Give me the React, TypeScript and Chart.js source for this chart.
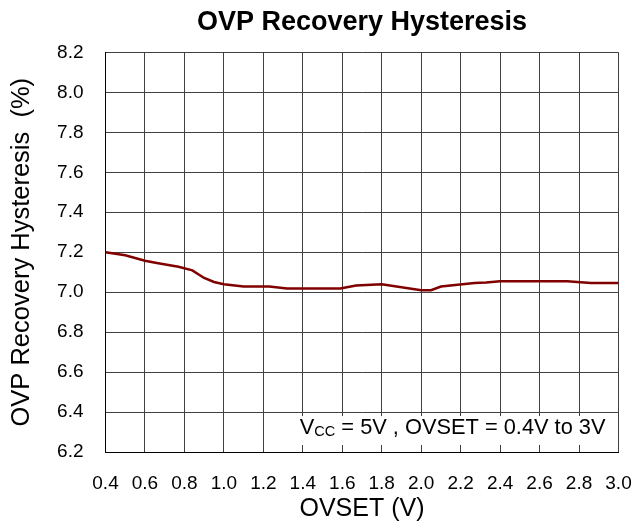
import React, { useEffect, useRef } from "react";
import { Chart, registerables } from "chart.js";

Chart.register(...registerables);

const chartTitle = "OVP Recovery Hysteresis";
const xAxisTitle = "OVSET (V)";
const yAxisTitle = "OVP Recovery Hysteresis  (%)";

const ovsetValues = [0.4, 0.5, 0.6, 0.66, 0.77, 0.84, 0.9, 0.95, 1.0, 1.1, 1.23, 1.32, 1.59, 1.67, 1.8, 2.0, 2.05, 2.1, 2.27, 2.33, 2.4, 2.74, 2.86, 3.0];
const hysteresisValues = [7.2, 7.185, 7.157, 7.146, 7.127, 7.109, 7.071, 7.051, 7.04, 7.028, 7.028, 7.018, 7.018, 7.033, 7.04, 7.01, 7.01, 7.028, 7.046, 7.048, 7.055, 7.055, 7.046, 7.046];

const xTicks = [0.4, 0.6, 0.8, 1.0, 1.2, 1.4, 1.6, 1.8, 2.0, 2.2, 2.4, 2.6, 2.8, 3.0];
const yTicks = [6.2, 6.4, 6.6, 6.8, 7.0, 7.2, 7.4, 7.6, 7.8, 8.0, 8.2];

const noteMain = "V";
const noteSub = "CC";
const noteRest = " = 5V , OVSET = 0.4V to 3V";

const FONT = "'Liberation Sans', Arial, Helvetica, sans-serif";

const notePlugin = {
  id: "notePlugin",
  afterDatasetsDraw(chart: any) {
    const { ctx, chartArea, scales } = chart;
    const y64 = scales.y.getPixelForValue(6.4);
    const mainFont = `21.8px ${FONT}`;
    const subFont = `14.5px ${FONT}`;
    ctx.save();
    ctx.font = mainFont;
    const wMain = ctx.measureText(noteMain).width;
    const wRest = ctx.measureText(noteRest).width;
    ctx.font = subFont;
    const wSub = ctx.measureText(noteSub).width;
    const total = wMain + wSub + wRest;
    const right = chartArea.right - 13;
    const left = right - total;
    const boxTop = y64 + 4;
    const boxBottom = chartArea.bottom - 7;
    ctx.fillStyle = "#ffffff";
    ctx.fillRect(left - 4, boxTop, chartArea.right - 1 - (left - 4), boxBottom - boxTop);
    const base = y64 + 22;
    ctx.fillStyle = "#000000";
    ctx.textBaseline = "alphabetic";
    ctx.textAlign = "left";
    ctx.font = mainFont;
    ctx.fillText(noteMain, left, base);
    ctx.font = subFont;
    ctx.fillText(noteSub, left + wMain, base + 2);
    ctx.font = mainFont;
    ctx.fillText(noteRest, left + wMain + wSub, base);
    ctx.restore();
  },
};

export default function App() {
  const ref = useRef<HTMLCanvasElement | null>(null);

  useEffect(() => {
    document.body.style.margin = "0";
    const canvas = ref.current;
    if (!canvas) return;
    const data = ovsetValues.map((x, i) => ({ x, y: hysteresisValues[i] }));
    const chart = new Chart(canvas, {
      type: "line",
      data: {
        datasets: [
          {
            data,
            borderColor: "#800000",
            backgroundColor: "#800000",
            borderWidth: 2.5,
            pointRadius: 0,
            tension: 0,
            fill: false,
          },
        ],
      },
      options: {
        responsive: false,
        animation: false,
        devicePixelRatio: 1,
        layout: { padding: { left: 0, right: 14.5, top: 0, bottom: 0 } },
        plugins: {
          legend: { display: false },
          tooltip: { enabled: false },
          title: {
            display: true,
            text: chartTitle,
            fullSize: false,
            color: "#000",
            font: { family: FONT, size: 27, weight: "bold" },
            padding: { top: 6, bottom: 14 },
          },
        },
        scales: {
          x: {
            type: "linear",
            min: 0.4,
            max: 3.0,
            afterBuildTicks: (s: any) => {
              s.ticks = xTicks.map((v) => ({ value: v }));
            },
            afterFit: (s: any) => {
              s.height = 76;
              s.paddingLeft = 0;
              s.paddingRight = 0;
            },
            ticks: {
              color: "#000",
              font: { family: FONT, size: 19 },
              padding: 20,
              maxRotation: 0,
              autoSkip: false,
              callback: (v: any) => Number(v).toFixed(1),
            },
            grid: { color: "#404040", lineWidth: 1, drawTicks: false },
            border: { display: true, color: "#000", width: 1 },
            title: {
              display: true,
              text: xAxisTitle,
              color: "#000",
              font: { family: FONT, size: 25 },
              padding: { top: 0, bottom: 4 },
            },
          },
          y: {
            type: "linear",
            min: 6.2,
            max: 8.2,
            afterBuildTicks: (s: any) => {
              s.ticks = yTicks.map((v) => ({ value: v }));
            },
            afterFit: (s: any) => {
              s.width = 105.5;
              s.paddingTop = 0;
              s.paddingBottom = 0;
            },
            ticks: {
              color: "#000",
              font: { family: FONT, size: 19 },
              padding: 22,
              autoSkip: false,
              callback: (v: any) => Number(v).toFixed(1),
            },
            grid: { color: "#404040", lineWidth: 1, drawTicks: false },
            border: { display: true, color: "#000", width: 1 },
            title: {
              display: true,
              text: yAxisTitle,
              color: "#000",
              font: { family: FONT, size: 25.5 },
              padding: { top: 7, bottom: 0 },
            },
          },
        },
      },
      plugins: [notePlugin],
    });
    return () => chart.destroy();
  }, []);

  return (
    <div style={{ width: 633, height: 528, background: "#fff" }}>
      <canvas ref={ref} width={633} height={528} />
    </div>
  );
}
